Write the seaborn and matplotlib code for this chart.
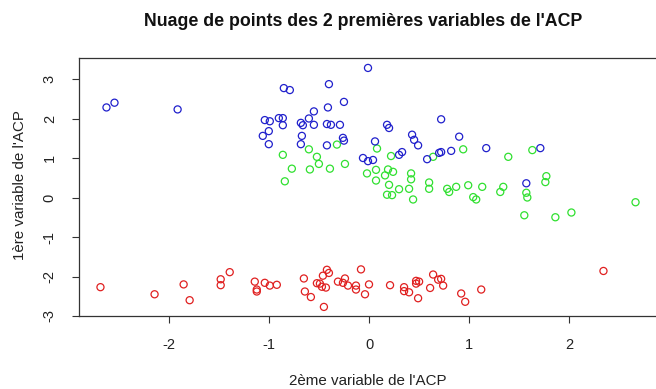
import matplotlib
matplotlib.use("Agg")
import matplotlib.pyplot as plt
import seaborn as sns
import pandas as pd

# Points: x = 2nd PCA variable, y = 1st PCA variable
red_x = [-2.68, -2.14, -1.85, -1.79, -1.48, -1.48, -1.39, -1.14, -1.12, -1.12,
         -1.04, -0.99, -0.92, -0.65, -0.64, -0.58, -0.52, -0.49, -0.47, -0.46,
         -0.43, -0.42, -0.40, -0.45, -0.31, -0.26, -0.24, -0.21, -0.13, -0.13,
         -0.08, -0.04, 0.00, 0.21, 0.35, 0.35, 0.40, 0.47, 0.47, 0.50,
         0.49, 0.61, 0.64, 0.69, 0.72, 0.74, 0.92, 0.96, 1.12, 2.34]
red_y = [-2.27, -2.45, -2.20, -2.60, -2.07, -2.22, -1.89, -2.13, -2.33, -2.38,
         -2.16, -2.23, -2.21, -2.05, -2.38, -2.52, -2.17, -2.18, -2.26, -1.98,
         -2.28, -1.83, -1.91, -2.77, -2.13, -2.16, -2.05, -2.23, -2.23, -2.33,
         -1.82, -2.45, -2.20, -2.22, -2.27, -2.37, -2.40, -2.11, -2.18, -2.13,
         -2.55, -2.29, -1.95, -2.08, -2.06, -2.23, -2.43, -2.64, -2.33, -1.86]

green_x = [-0.86, -0.60, -0.52, -0.50, -0.77, -0.59, -0.39, -0.24, -0.84, -0.32,
           0.08, 0.22, -0.02, 0.07, 0.19, 0.24, 0.16, 0.07, 0.20, 0.30,
           0.40, 0.18, 0.23, 0.44, 0.42, 0.42, 0.60, 0.60, 0.64, 0.78,
           0.80, 0.87, 0.94, 0.99, 1.13, 1.04, 1.07, 1.31, 1.34, 1.39,
           1.63, 1.57, 1.58, 1.77, 1.76, 1.55, 1.86, 2.02, 2.66]
green_y = [1.08, 1.22, 1.03, 0.85, 0.73, 0.71, 0.73, 0.85, 0.41, 1.34,
           1.24, 1.05, 0.61, 0.70, 0.71, 0.65, 0.56, 0.43, 0.32, 0.21,
           0.22, 0.07, 0.06, -0.05, 0.61, 0.46, 0.38, 0.22, 1.03, 0.22,
           0.14, 0.27, 1.22, 0.31, 0.27, 0.01, -0.05, 0.14, 0.27, 1.03,
           1.20, 0.12, 0.00, 0.54, 0.39, -0.45, -0.50, -0.38, -0.12]

blue_x = [-0.01, -0.85, -0.79, -0.40, -0.25, -0.41, -0.55, -1.04, -0.99, -0.90,
          -0.86, -0.86, -0.68, -0.66, -0.60, -0.55, -0.42, -0.38, -0.29, -1.00,
          -1.06, -1.00, -0.67, -0.68, -0.42, -0.26, -0.25, 0.18, 0.20, 0.72,
          0.06, 0.43, 0.45, 0.49, 0.90, -0.06, -0.01, 0.04, 0.30, 0.33,
          0.58, 0.70, 0.72, 0.82, 1.17, 1.71, 1.57, -2.62, -2.54, -1.91]
blue_y = [3.28, 2.77, 2.72, 2.87, 2.42, 2.28, 2.18, 1.96, 1.93, 2.01,
          2.01, 1.83, 1.89, 1.83, 2.00, 1.84, 1.86, 1.84, 1.84, 1.68,
          1.56, 1.35, 1.56, 1.35, 1.32, 1.51, 1.44, 1.84, 1.76, 1.98,
          1.42, 1.59, 1.46, 1.32, 1.54, 1.00, 0.92, 0.95, 1.08, 1.15,
          0.97, 1.13, 1.15, 1.18, 1.25, 1.25, 0.36, 2.28, 2.40, 2.23]

groups = ["rouge", "vert", "bleu"]
colors = {"rouge": "#E02020", "vert": "#30E030", "bleu": "#2020CC"}

df = pd.concat([
    pd.DataFrame({"x": red_x, "y": red_y, "g": "rouge"}),
    pd.DataFrame({"x": green_x, "y": green_y, "g": "vert"}),
    pd.DataFrame({"x": blue_x, "y": blue_y, "g": "bleu"}),
], ignore_index=True)

sns.set_style("white")
plt.rcParams["font.family"] = ["Liberation Sans", "DejaVu Sans"]
plt.rcParams["axes.unicode_minus"] = False

W, H = 656, 389
fig = plt.figure(figsize=(W / 100, H / 100), dpi=100)
left_px, right_px, top_px, bottom_px = 79, 656, 58, 316
ax = fig.add_axes([left_px / W, 1 - bottom_px / H,
                   (right_px - left_px) / W, (bottom_px - top_px) / H])

sns.scatterplot(data=df, x="x", y="y", hue="g", hue_order=groups,
                palette=colors, s=26, linewidth=0, legend=False, ax=ax)
for coll in ax.collections:
    fc = coll.get_facecolors()
    coll.set_edgecolors(fc)
    coll.set_facecolors("none")
    coll.set_linewidths(0.9)

ax.set_xlim((left_px - 369) / 100.2, (right_px - 369) / 100.2)
ax.set_ylim((197.5 - bottom_px) / 39.5, (197.5 - top_px) / 39.5)

ax.set_xticks([-2, -1, 0, 1, 2])
ax.set_yticks([-3, -2, -1, 0, 1, 2, 3])
ax.set_yticklabels(["-3", "-2", "-1", "0", "1", "2", "3"], rotation=90, va="center")
ax.tick_params(axis="both", direction="out", length=5, width=0.8, color="#333333",
               labelsize=10.5, pad=11, bottom=True, left=True, labelcolor="#222222")

for side in ["top", "left", "bottom"]:
    ax.spines[side].set_color("#333333")
    ax.spines[side].set_linewidth(0.9)
ax.spines["right"].set_visible(False)

ax.set_xlabel("2ème variable de l'ACP", fontsize=10.9, color="#222222")
ax.set_ylabel("1ère variable de l'ACP", fontsize=10.9, color="#222222")
ax.xaxis.label.set_va("center")
ax.yaxis.label.set_va("center")
aw, ah = right_px - left_px, bottom_px - top_px
ax.xaxis.set_label_coords((368 - left_px) / aw, (bottom_px - 381) / ah)
ax.yaxis.set_label_coords((20 - left_px) / aw, (bottom_px - 185) / ah)

ax.set_title("Nuage de points des 2 premières variables de l'ACP",
             fontsize=12.8, fontweight="bold", color="#111111", pad=0,
             x=(363 - left_px) / aw, y=(bottom_px - 22) / ah, va="center")

fig.savefig("out.png", dpi=100)
